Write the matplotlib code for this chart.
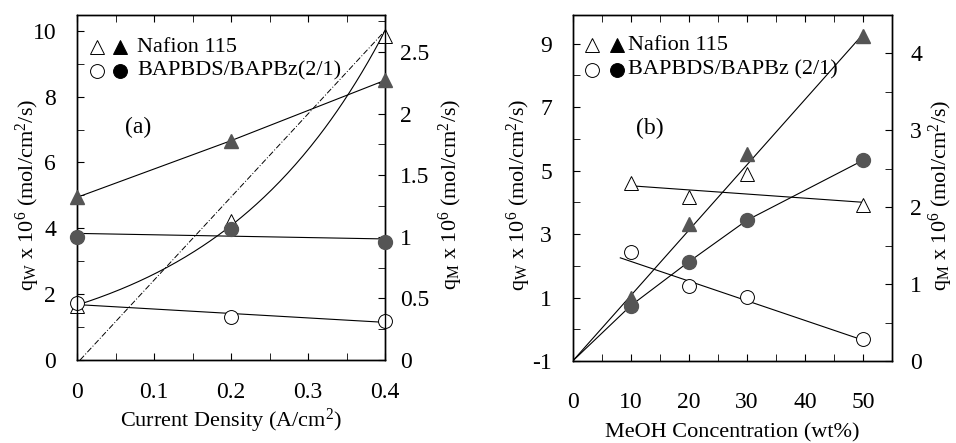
import numpy as np
import matplotlib
matplotlib.use("Agg")
import matplotlib.pyplot as plt

plt.rcParams['font.family'] = ['Liberation Serif', 'DejaVu Serif']
plt.rcParams['mathtext.fontset'] = 'custom'
plt.rcParams['mathtext.rm'] = 'Liberation Serif'
plt.rcParams['mathtext.it'] = 'Liberation Serif:italic'
plt.rcParams['axes.unicode_minus'] = False

# ---------------- Panel (a) data ----------------
cd = [0.0, 0.2, 0.4]                       # current density (A/cm2)
a_naf_qw = [1.64, 4.22, 9.83]              # open triangles, left axis
a_bap_qw = [1.73, 1.32, 1.19]              # open circles, left axis
a_naf_qm = [1.32, 1.78, 2.27]              # filled triangles, right axis
a_bap_qm = [1.00, 1.06, 0.955]             # filled circles, right axis
a_ref_x = [0.004, 0.4]                     # dash-dot reference line
a_ref_y = [0.0, 10.0]

# ---------------- Panel (b) data ----------------
meoh = [10, 20, 30, 50]                    # MeOH concentration (wt%)
b_naf_qw = [4.61, 4.17, 4.89, 3.91]        # open triangles, left axis
b_bap_qw = [2.42, 1.36, 1.02, -0.31]       # open circles, left axis
b_naf_qm = [0.82, 1.78, 2.69, 4.23]        # filled triangles, right axis
b_bap_qm = [0.72, 1.29, 1.83, 2.61]        # filled circles, right axis
b_naf_qw_fit_x = [10, 50]
b_naf_qw_fit_y = [4.52, 4.00]
b_bap_qw_fit_x = [8.2, 51.1]
b_bap_qw_fit_y = [2.25, -0.41]
b_naf_qm_fit_x = [0, 50]
b_naf_qm_fit_y = [0.0, 4.25]

legend_labels_a = ['Nafion 115', 'BAPBDS/BAPBz(2/1)']
legend_labels_b = ['Nafion 115', 'BAPBDS/BAPBz (2/1)']

FILL = '#555555'
MS_T = 10
MS_C = 10
LW = 0.8
FS = 17
LEGFS = 16
LFS = 16

W, H = 956, 443
fig = plt.figure(figsize=(W / 100, H / 100), dpi=100)

def style_axes(ax, axr, xpad, lpad, rpad):
    for a in (ax, axr):
        for s in a.spines.values():
            s.set_linewidth(1.0)
    ax.tick_params(axis='both', which='both', direction='in', labelsize=FS)
    ax.tick_params(axis='x', which='both', top=True, length=5)
    ax.tick_params(axis='x', which='major', pad=xpad)
    ax.tick_params(axis='y', which='both', length=5, pad=lpad, right=False)
    axr.tick_params(axis='y', which='both', direction='in', length=5, pad=rpad, labelsize=FS)

def legend(ax, xs, ys, labels):
    t = ax.transAxes
    ax.plot([xs[0]], [ys[0]], marker='^', ms=MS_T, mfc='white', mec='black', mew=0.7, transform=t, clip_on=False)
    ax.plot([xs[1]], [ys[0]], marker='^', ms=MS_T, mfc='black', mec='black', mew=0.7, transform=t, clip_on=False)
    ax.plot([xs[0]], [ys[1]], marker='o', ms=MS_C, mfc='white', mec='black', mew=0.7, transform=t, clip_on=False)
    ax.plot([xs[1]], [ys[1]], marker='o', ms=MS_C, mfc='black', mec='black', mew=0.7, transform=t, clip_on=False)
    ax.text(xs[2], ys[0], labels[0], transform=t, fontsize=LEGFS, va='center', ha='left')
    ax.text(xs[2], ys[1], labels[1], transform=t, fontsize=LEGFS, va='center', ha='left')

QW = 'q$_\\mathregular{W}$ x 10$^6$ (mol/cm$^2$/s)'
QM = 'q$_\\mathregular{M}$ x 10$^6$ (mol/cm$^2$/s)'

# ================= Panel (a) =================
ax = fig.add_axes([77 / W, 1 - 360 / H, 308 / W, 345 / H])
axr = ax.twinx()
ax.set_xlim(0, 0.4)
ax.set_ylim(0, 10.48)
axr.set_ylim(0, 2.8)
ax.set_xticks([0, 0.1, 0.2, 0.3, 0.4])
ax.set_xticklabels(['0', '0.1', '0.2', '0.3', '0.4'])
ax.set_xticks(np.arange(0.05, 0.4, 0.1), minor=True)
ax.set_yticks([0, 2, 4, 6, 8, 10])
ax.set_yticks([1, 3, 5, 7, 9], minor=True)
axr.set_yticks([0, 0.5, 1, 1.5, 2, 2.5])
axr.set_yticklabels(['0', '0.5', '1', '1.5', '2', '2.5'])
axr.set_yticks([0.25, 0.75, 1.25, 1.75, 2.25, 2.75], minor=True)
style_axes(ax, axr, 16, 15, 11)

# fit curve for Nafion water flux (exponential through data)
p = np.polyfit(cd, np.log(a_naf_qw), 1)
xx = np.linspace(0, 0.4, 200)
ax.plot(xx, np.exp(np.polyval(p, xx)), color='black', lw=LW)
ax.plot(a_ref_x, a_ref_y, color='black', lw=0.7, linestyle=(0, (6, 2, 1, 2)))
pc = np.polyfit(cd, a_bap_qw, 1)
ax.plot([0, 0.4], np.polyval(pc, [0, 0.4]), color='black', lw=LW)
axr.plot(cd, a_naf_qm, color='black', lw=LW)
pm = np.polyfit(cd, a_bap_qm, 1)
axr.plot([0, 0.4], np.polyval(pm, [0, 0.4]), color='black', lw=LW)

ax.plot(cd, a_naf_qw, '^', ms=MS_T, mfc='white', mec='black', mew=0.7, clip_on=False, zorder=5)
ax.plot(cd, a_bap_qw, 'o', ms=MS_C, mfc='white', mec='black', mew=0.7, clip_on=False, zorder=5)
axr.plot(cd, a_naf_qm, '^', ms=MS_T, mfc=FILL, mec=FILL, clip_on=False, zorder=5)
axr.plot(cd, a_bap_qm, 'o', ms=MS_C, mfc=FILL, mec=FILL, clip_on=False, zorder=5)

ax.text(0.08, 7.05, '(a)', fontsize=FS, ha='center', va='center')
legend(ax, [0.064, 0.138, 0.195], [0.907, 0.838], legend_labels_a)

ax.set_xlabel('Current Density (A/cm$^2$)', fontsize=LFS)
ax.xaxis.set_label_coords(0.5, -0.136)
ax.set_ylabel(QW, fontsize=LFS)
ax.yaxis.set_label_coords(-0.114, 0.48)
axr.set_ylabel(QM, fontsize=LFS, rotation=90)
axr.yaxis.set_label_coords(1.169, 0.48)

# ================= Panel (b) =================
bx = fig.add_axes([572.7 / W, 1 - 361 / H, 319.3 / W, 346 / H])
bxr = bx.twinx()
bx.set_xlim(0, 55)
bx.set_ylim(-1, 9.9)
bxr.set_ylim(0, 4.5)
bx.set_xticks([0, 10, 20, 30, 40, 50])
bx.set_xticks([5, 15, 25, 35, 45, 55], minor=True)
bx.set_yticks([-1, 1, 3, 5, 7, 9])
bx.set_yticks([0, 2, 4, 6, 8], minor=True)
bxr.set_yticks([0, 1, 2, 3, 4])
bxr.set_yticks([0.5, 1.5, 2.5, 3.5], minor=True)
style_axes(bx, bxr, 22, 15, 13)

bx.plot(b_naf_qw_fit_x, b_naf_qw_fit_y, color='black', lw=LW)
bx.plot(b_bap_qw_fit_x, b_bap_qw_fit_y, color='black', lw=LW)
bxr.plot(b_naf_qm_fit_x, b_naf_qm_fit_y, color='black', lw=LW)
bxr.plot([0] + meoh, [0] + b_bap_qm, color='black', lw=LW)

bx.plot(meoh, b_naf_qw, '^', ms=MS_T, mfc='white', mec='black', mew=0.7, zorder=5)
bx.plot(meoh, b_bap_qw, 'o', ms=MS_C, mfc='white', mec='black', mew=0.7, zorder=5)
bxr.plot(meoh, b_naf_qm, '^', ms=MS_T, mfc=FILL, mec=FILL, zorder=5)
bxr.plot(meoh, b_bap_qm, 'o', ms=MS_C, mfc=FILL, mec=FILL, zorder=5)

bx.text(13.3, 6.33, '(b)', fontsize=FS, ha='center', va='center')
legend(bx, [0.0595, 0.138, 0.174], [0.913, 0.841], legend_labels_b)

bx.set_xlabel('MeOH Concentration (wt%)', fontsize=LFS)
bx.xaxis.set_label_coords(0.5, -0.179)
bx.set_ylabel(QW, fontsize=LFS)
bx.yaxis.set_label_coords(-0.124, 0.48)
bxr.set_ylabel(QM, fontsize=LFS, rotation=90)
bxr.yaxis.set_label_coords(1.108, 0.48)

fig.savefig('out.png', dpi=100)
